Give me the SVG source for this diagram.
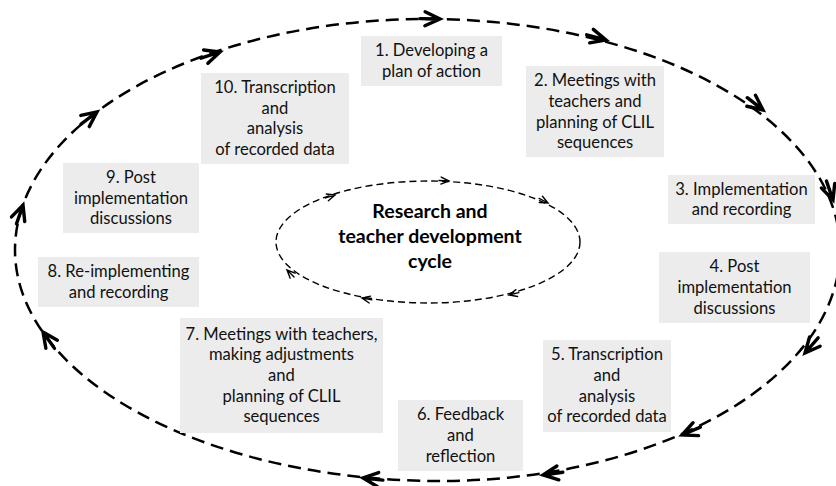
<svg xmlns="http://www.w3.org/2000/svg" xmlns:xlink="http://www.w3.org/1999/xlink" width="836" height="486" viewBox="0 0 836 486">
<style>
.box{fill:#ececec;stroke:none}
.t{font-family:Lato,"Open Sans","Liberation Sans",sans-serif;font-size:16.6px;fill:#111;text-anchor:middle}
.title{font-family:Lato,"Open Sans","Liberation Sans",sans-serif;font-size:19.5px;font-weight:bold;fill:#000;text-anchor:middle}
.outer{fill:none;stroke:#000;stroke-width:2.5;stroke-dasharray:13 7}
.inner{fill:none;stroke:#000;stroke-width:1.4;stroke-dasharray:7 4}
.ahb{fill:none;stroke:#000;stroke-width:3.4;stroke-linejoin:miter;stroke-linecap:round}
.ahs{fill:none;stroke:#000;stroke-width:1.4;stroke-linejoin:miter;stroke-linecap:round}
</style>
<defs>
<path id="big" d="M-15,-7 L0,0 L-15,7 M-20,0 L0,0"/>
<path id="small" d="M-8,-3.5 L0,0 L-8,3.5 M-10,0 L0,0"/>
</defs>
<g id="connectors">
<path class="outer" d="M427,19 A413,231 0 0 1 840,250 A400,231 0 0 1 440,481 A425,231 0 0 1 15,250 A412,231 0 0 1 427,19 Z"/>
<g class="ahb">
<use xlink:href="#big" transform="translate(440,19) rotate(1)"/>
<use xlink:href="#big" transform="translate(606,40) rotate(15)"/>
<use xlink:href="#big" transform="translate(763,110) rotate(38)"/>
<use xlink:href="#big" transform="translate(833,200) rotate(71)"/>
<use xlink:href="#big" transform="translate(805,353) rotate(131)"/>
<use xlink:href="#big" transform="translate(682,435) rotate(157)"/>
<use xlink:href="#big" transform="translate(543,475) rotate(172)"/>
<use xlink:href="#big" transform="translate(363,478) rotate(186)"/>
<use xlink:href="#big" transform="translate(43,332) rotate(235)"/>
<use xlink:href="#big" transform="translate(23,205) rotate(-71)"/>
<use xlink:href="#big" transform="translate(97,112) rotate(-37)"/>
<use xlink:href="#big" transform="translate(220,52) rotate(-18)"/>
</g>
<ellipse class="inner" cx="428" cy="242" rx="152" ry="61"/>
<g class="ahs">
<use xlink:href="#small" transform="translate(449,181) rotate(3)"/>
<use xlink:href="#small" transform="translate(548,203) rotate(27)"/>
<use xlink:href="#small" transform="translate(509,295) rotate(166)"/>
<use xlink:href="#small" transform="translate(362,298) rotate(191)"/>
<use xlink:href="#small" transform="translate(287,270) rotate(225)"/>
<use xlink:href="#small" transform="translate(335,195) rotate(-17)"/>
</g>
</g>
<g id="center">
<text class="title" x="430" y="218">Research and</text>
<text class="title" x="430" y="243">teacher development</text>
<text class="title" x="430" y="268">cycle</text>
</g>
<g id="n1">
<rect class="box" x="361" y="36" width="141" height="50"/>
<text class="t" x="431.5" y="56">1. Developing a</text>
<text class="t" x="431.5" y="77">plan of action</text>
</g>
<g id="n2">
<rect class="box" x="526" y="66" width="138" height="91"/>
<text class="t" x="595" y="86">2. Meetings with</text>
<text class="t" x="595" y="107">teachers and</text>
<text class="t" x="595" y="128">planning of CLIL</text>
<text class="t" x="595" y="148">sequences</text>
</g>
<g id="n3">
<rect class="box" x="668" y="175" width="147" height="49"/>
<text class="t" x="741.5" y="195">3. Implementation</text>
<text class="t" x="741.5" y="215">and recording</text>
</g>
<g id="n4">
<rect class="box" x="659" y="252" width="151" height="71"/>
<text class="t" x="734.5" y="272">4. Post</text>
<text class="t" x="734.5" y="293">implementation</text>
<text class="t" x="734.5" y="314">discussions</text>
</g>
<g id="n5">
<rect class="box" x="543" y="340" width="128" height="92"/>
<text class="t" x="607" y="360">5. Transcription</text>
<text class="t" x="607" y="381">and</text>
<text class="t" x="607" y="402">analysis</text>
<text class="t" x="607" y="422">of recorded data</text>
</g>
<g id="n6">
<rect class="box" x="398" y="400" width="125" height="71"/>
<text class="t" x="460.5" y="420">6. Feedback</text>
<text class="t" x="460.5" y="441">and</text>
<text class="t" x="460.5" y="462">reflection</text>
</g>
<g id="n7">
<rect class="box" x="180" y="318" width="203" height="115"/>
<text class="t" x="281.5" y="340">7. Meetings with teachers,</text>
<text class="t" x="281.5" y="360">making adjustments</text>
<text class="t" x="281.5" y="381">and</text>
<text class="t" x="281.5" y="402">planning of CLIL</text>
<text class="t" x="281.5" y="422">sequences</text>
</g>
<g id="n8">
<rect class="box" x="38" y="257" width="161" height="50"/>
<text class="t" x="118.5" y="277">8. Re-implementing</text>
<text class="t" x="118.5" y="298">and recording</text>
</g>
<g id="n9">
<rect class="box" x="63" y="163" width="136" height="70"/>
<text class="t" x="131" y="183">9. Post</text>
<text class="t" x="131" y="204">implementation</text>
<text class="t" x="131" y="224">discussions</text>
</g>
<g id="n10">
<rect class="box" x="201" y="73" width="148" height="91"/>
<text class="t" x="275" y="93">10. Transcription</text>
<text class="t" x="275" y="114">and</text>
<text class="t" x="275" y="134">analysis</text>
<text class="t" x="275" y="155">of recorded data</text>
</g>
</svg>
